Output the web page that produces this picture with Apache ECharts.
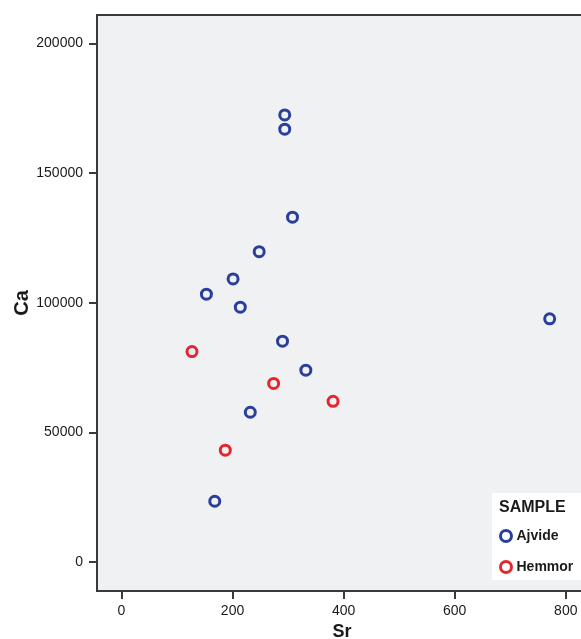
<!DOCTYPE html>
<html><head><meta charset="utf-8">
<script src="https://cdn.jsdelivr.net/npm/echarts@6/dist/echarts.min.js"></script>
<style>html,body{margin:0;padding:0;background:#fff}#c{width:581px;height:639px}</style>
</head><body><div id="c"></div>
<script>
const seriesNames = ['Ajvide', 'Hemmor'];
const ajvideSr = [294, 294, 308, 248, 201, 153, 214, 290, 332, 232, 168, 771];
const ajvideCa = [172400, 166900, 133000, 119700, 109200, 103300, 98300, 85200, 74000, 57800, 23500, 93800];
const hemmorSr = [127, 274, 381, 187];
const hemmorCa = [81200, 68900, 62000, 43200];
const xTicks = [0, 200, 400, 600, 800];
const yTicks = [0, 50000, 100000, 150000, 200000];
const colors = ['#2a3f9c', '#e8252f'];

const pairs = (xs, ys) => xs.map((x, i) => [x, ys[i]]);
const font = 'Liberation Sans, Arial, sans-serif';
const axisCommon = {
  axisLine: { show: true, onZero: false, lineStyle: { color: '#3a3a3a', width: 2 } },
  axisTick: { show: true, length: 8, lineStyle: { color: '#3a3a3a', width: 2 } },
  splitLine: { show: false },
  nameMoveOverlap: false
};
const raw = v => String(v);
const chart = echarts.init(document.getElementById('c'), null, { renderer: 'canvas' });
chart.setOption({
  animation: false,
  grid: { left: 97, top: 15, right: -2, bottom: 48, outerBoundsMode: 'none', containLabel: false,
    show: true, backgroundColor: '#eff1f3', borderColor: '#3a3a3a', borderWidth: 2 },
  xAxis: Object.assign({}, axisCommon, {
    type: 'value', min: -44, max: 831, name: 'Sr', nameLocation: 'middle', nameGap: 32,
    nameTextStyle: { fontFamily: font, fontWeight: 'bold', fontSize: 18, color: '#1a1a1a', padding: [0, 0, 0, 4] },
    axisTick: Object.assign({}, axisCommon.axisTick, { customValues: xTicks }),
    axisLabel: { customValues: xTicks, formatter: raw, fontFamily: font, fontSize: 14, color: '#1a1a1a', margin: 13 }
  }),
  yAxis: Object.assign({}, axisCommon, {
    type: 'value', min: -11090, max: 210900, name: 'Ca', nameLocation: 'middle', nameGap: 65,
    nameTextStyle: { fontFamily: font, fontWeight: 'bold', fontSize: 20, color: '#1a1a1a' },
    axisTick: Object.assign({}, axisCommon.axisTick, { customValues: yTicks }),
    axisLabel: { customValues: yTicks, formatter: raw, fontFamily: font, fontSize: 14, color: '#1a1a1a', margin: 14 }
  }),
  legend: {
    z: 20, orient: 'vertical', left: 494, top: 524, itemGap: 17, itemWidth: 11, itemHeight: 11,
    icon: 'circle', data: seriesNames,
    itemStyle: { color: 'rgba(0,0,0,0)', borderWidth: 3 },
    textStyle: { fontFamily: font, fontWeight: 'bold', fontSize: 14, color: '#1a1a1a' }
  },
  graphic: [
    { type: 'rect', z: 5, shape: { x: 492, y: 493, width: 92, height: 87 }, style: { fill: '#ffffff' } },
    { type: 'text', z: 6, left: 499, top: 500, style: { text: 'SAMPLE', font: 'bold 16px ' + font, fill: '#1a1a1a' } }
  ],
  series: [
    { name: seriesNames[0], type: 'scatter', symbol: 'circle', symbolSize: 10,
      itemStyle: { color: 'rgba(0,0,0,0)', borderColor: colors[0], borderWidth: 3, opacity: 1 },
      data: pairs(ajvideSr, ajvideCa) },
    { name: seriesNames[1], type: 'scatter', symbol: 'circle', symbolSize: 10,
      itemStyle: { color: 'rgba(0,0,0,0)', borderColor: colors[1], borderWidth: 3, opacity: 1 },
      data: pairs(hemmorSr, hemmorCa) }
  ]
});
</script></body></html>
